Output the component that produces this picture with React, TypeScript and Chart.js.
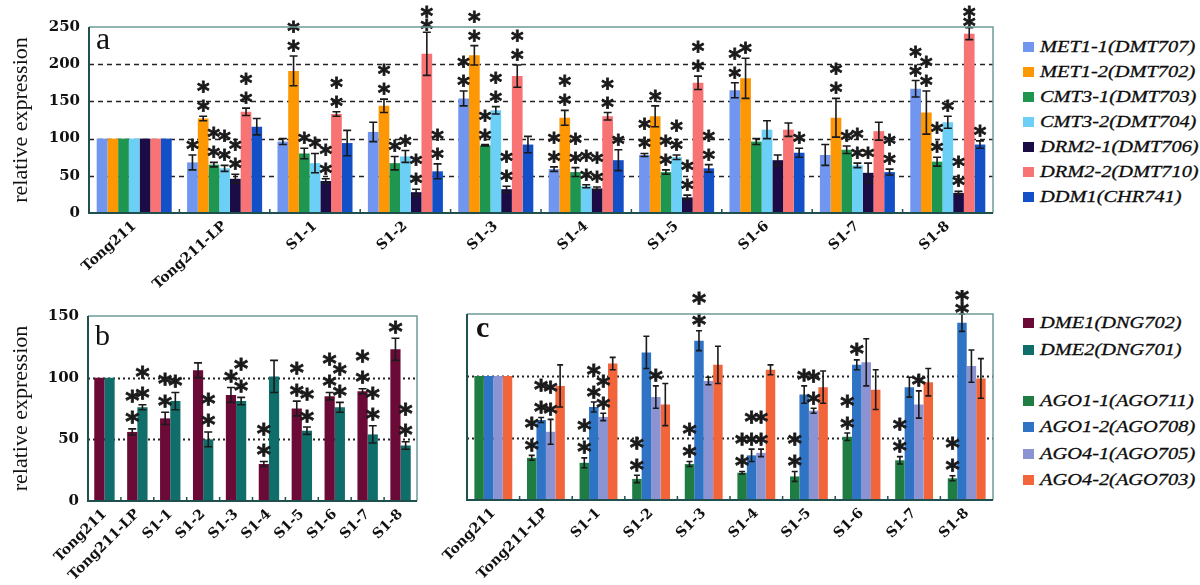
import { useEffect, useRef } from 'react';
import { Chart, registerables } from 'chart.js';
Chart.register(...registerables);

// ---------- data ----------
const groups = ['Tong211', 'Tong211-LP', 'S1-1', 'S1-2', 'S1-3', 'S1-4', 'S1-5', 'S1-6', 'S1-7', 'S1-8'];

// panel a
const aNames = ['MET1-1(DMT707)', 'MET1-2(DMT702)', 'CMT3-1(DMT703)', 'CMT3-2(DMT704)', 'DRM2-1(DMT706)', 'DRM2-2(DMT710)', 'DDM1(CHR741)'];
const aColors = ['#7096f0', '#fd9704', '#1e9650', '#6ccff6', '#1c0c46', '#f87474', '#1350c8'];
const met11 = [100, 68, 96, 109, 154, 59, 78, 165, 78, 167];
const met11Err = [0, 10, 4, 13, 10, 3, 2, 10, 14, 11];
const met11Stars = [0, 1, 0, 0, 2, 2, 2, 2, 0, 2];
const met12 = [100, 127, 191, 144, 212, 128, 130, 181, 128, 135];
const met12Err = [0, 3, 20, 9, 13, 10, 14, 27, 26, 29];
const met12Stars = [0, 2, 2, 2, 2, 2, 1, 1, 2, 2];
const cmt31 = [100, 65, 80, 67, 91, 55, 55, 96, 85, 69];
const cmt31Err = [0, 3, 7, 9, 1, 6, 3, 4, 5, 6];
const cmt31Stars = [0, 2, 1, 1, 2, 2, 2, 0, 1, 2];
const cmt32 = [100, 60, 67, 76, 138, 36, 75, 112, 64, 122];
const cmt32Err = [0, 4, 13, 8, 5, 2, 3, 12, 3, 8];
const cmt32Stars = [0, 2, 1, 1, 2, 2, 2, 0, 2, 1];
const drm21 = [100, 46, 43, 28, 32, 33, 21, 71, 54, 27];
const drm21Err = [0, 6, 3, 4, 4, 2, 3, 7, 13, 2];
const drm21Stars = [0, 2, 2, 2, 2, 2, 2, 0, 1, 2];
const drm22 = [100, 136, 133, 214, 184, 130, 175, 112, 110, 241];
const drm22Err = [0, 5, 3, 29, 15, 5, 9, 9, 12, 8];
const drm22Stars = [0, 2, 2, 2, 2, 2, 2, 0, 0, 2];
const ddm1 = [100, 116, 94, 56, 92, 71, 60, 81, 55, 92];
const ddm1Err = [0, 11, 17, 10, 11, 14, 5, 6, 4, 5];
const ddm1Stars = [0, 0, 0, 2, 0, 1, 2, 1, 2, 1];

// panel b
const bNames = ['DME1(DNG702)', 'DME2(DNG701)'];
const bColors = ['#6b0a36', '#0f6e6a'];
const dme1 = [100, 56, 67, 106, 86, 30, 75, 85, 89, 123];
const dme1Err = [0, 2.5, 5, 6, 6, 2, 6, 3, 2, 9];
const dme1Stars = [0, 2, 2, 0, 1, 2, 2, 2, 2, 1];
const dme2 = [100, 76, 81, 50, 81, 101, 57, 76, 54, 45];
const dme2Err = [0, 2, 7, 6, 3, 13, 3, 4, 7, 3];
const dme2Stars = [0, 2, 1, 2, 2, 0, 2, 2, 2, 2];

// panel c
const cNames = ['AGO1-1(AGO711)', 'AGO1-2(AGO708)', 'AGO4-1(AGO705)', 'AGO4-2(AGO703)'];
const cColors = ['#1f7d44', '#2e73c4', '#8b93d3', '#f2653a'];
const ago11 = [100, 34, 30, 17, 29, 22, 19, 51, 32, 17.5];
const ago11Err = [0, 2, 4, 3, 2, 1, 4, 3, 3, 2];
const ago11Stars = [0, 2, 2, 2, 2, 2, 2, 2, 2, 2];
const ago12 = [100, 64.5, 75, 119, 128.5, 36, 85, 109, 91, 143];
const ago12Err = [0, 2, 4, 13, 8, 5, 7, 4, 8, 7];
const ago12Stars = [0, 2, 2, 0, 2, 2, 1, 1, 0, 2];
const ago41 = [100, 55, 67, 83, 96, 38, 72, 111, 77, 108];
const ago41Err = [0, 10, 3, 9, 3, 3, 2, 19, 11, 13];
const ago41Stars = [0, 2, 2, 1, 0, 2, 2, 0, 1, 0];
const ago42 = [100, 92, 110, 77, 109, 105, 91, 89, 95, 98];
const ago42Err = [0, 17, 5, 17, 15, 4, 13, 16, 11, 16];
const ago42Stars = [0, 0, 0, 0, 0, 0, 0, 0, 0, 0];

const aTicks = [0, 50, 100, 150, 200, 250];
const bTicks = [0, 50, 100, 150];
const aGrid = [50, 100, 150, 200];
const bcGrid = [50, 100];

const TICK_FONT = '"DejaVu Serif", serif';
const TITLE_FONT = '"Liberation Serif", "Times New Roman", serif';

// ---------- plugin: grid, error bars, stars, frame, panel letter ----------
const panelPlugin = {
  id: 'panel',
  beforeDatasetsDraw(chart: any, _a: any, opts: any) {
    const { ctx, chartArea: ca, scales } = chart;
    const y = scales.y;
    ctx.save();
    ctx.strokeStyle = '#222';
    ctx.lineWidth = opts.gridWidth;
    ctx.setLineDash(opts.gridDash);
    opts.gridValues.forEach((v: number) => {
      const py = Math.round(y.getPixelForValue(v)) + 0.5;
      ctx.beginPath();
      ctx.moveTo(ca.left, py);
      ctx.lineTo(ca.right, py);
      ctx.stroke();
    });
    ctx.restore();
  },
  afterDatasetsDraw(chart: any, _a: any, opts: any) {
    const { ctx, chartArea: ca, scales } = chart;
    const x = scales.x;
    const y = scales.y;
    ctx.save();
    ctx.font = opts.starFont;
    const m = ctx.measureText('*');
    const off = (m.actualBoundingBoxAscent - m.actualBoundingBoxDescent) / 2;
    chart.data.datasets.forEach((ds: any, i: number) => {
      const meta = chart.getDatasetMeta(i);
      const errs = opts.errors[i];
      const stars = opts.stars[i];
      meta.data.forEach((bar: any, j: number) => {
        const v = ds.data[j];
        const e = errs[j];
        const bx = bar.x;
        let top = y.getPixelForValue(v);
        if (e > 0) {
          const t = y.getPixelForValue(v + e);
          const b = y.getPixelForValue(v - e);
          ctx.strokeStyle = '#1a1a1a';
          ctx.lineWidth = 1.6;
          ctx.setLineDash([]);
          ctx.beginPath();
          ctx.moveTo(bx, t); ctx.lineTo(bx, b);
          ctx.moveTo(bx - opts.cap, t); ctx.lineTo(bx + opts.cap, t);
          ctx.moveTo(bx - opts.cap, b); ctx.lineTo(bx + opts.cap, b);
          ctx.stroke();
          top = t;
        }
        const n = stars[j];
        if (!n) return;
        let first = opts.starFirst;
        let gap = opts.starGap;
        const need = first + (n - 1) * gap;
        const avail = top - opts.starMinY;
        if (need > avail && avail > 0) {
          const f = avail / need;
          first *= f;
          gap *= f;
        }
        ctx.fillStyle = '#1a1a1a';
        ctx.strokeStyle = '#1a1a1a';
        ctx.lineWidth = 0.8;
        ctx.textAlign = 'center';
        ctx.textBaseline = 'alphabetic';
        for (let k = 0; k < n; k++) {
          const cy = top - first - k * gap;
          ctx.fillText('*', bx, cy + off);
          ctx.strokeText('*', bx, cy + off);
        }
      });
    });
    // small inner ticks at group boundaries
    ctx.strokeStyle = '#1f4f4f';
    ctx.lineWidth = 1.5;
    for (let j = 1; j < groups.length; j++) {
      const bx = (x.getPixelForValue(j - 1) + x.getPixelForValue(j)) / 2;
      ctx.beginPath();
      ctx.moveTo(bx, ca.bottom);
      ctx.lineTo(bx, ca.bottom - 4);
      ctx.stroke();
    }
    // frame
    ctx.strokeStyle = '#6d9b99';
    ctx.lineWidth = 1.5;
    ctx.beginPath();
    ctx.moveTo(ca.left, ca.top);
    ctx.lineTo(ca.right, ca.top);
    ctx.lineTo(ca.right, ca.bottom);
    ctx.stroke();
    ctx.strokeStyle = '#1f4f4f';
    ctx.lineWidth = 2;
    ctx.beginPath();
    ctx.moveTo(ca.left, ca.top);
    ctx.lineTo(ca.left, ca.bottom);
    ctx.lineTo(ca.right, ca.bottom);
    ctx.stroke();
    // panel letter
    ctx.fillStyle = '#111';
    ctx.font = opts.letterFont;
    ctx.textAlign = 'left';
    ctx.fillText(opts.letter, ca.left + opts.letterDx, ca.top + opts.letterDy);
    ctx.restore();
  },
};

type PanelProps = {
  left: number; top: number; width: number; height: number;
  names: string[]; colors: string[]; values: number[][]; errors: number[][]; stars: number[][];
  max: number; tickVals: number[] | null; gridValues: number[]; gridDash: number[]; gridWidth: number;
  catPct: number; yWidth: number; padTop: number; padRight: number; xHeight: number;
  labelSize: number; rotation: number; starFont: string; starFirst: number; starGap: number; starMinY: number; cap: number;
  letter: string; letterFont: string; letterDx: number; letterDy: number; title: boolean;
};

function Panel(p: PanelProps) {
  const ref = useRef<HTMLCanvasElement>(null);
  useEffect(() => {
    if (!ref.current) return;
    const chart = new Chart(ref.current, {
      type: 'bar',
      data: {
        labels: groups,
        datasets: p.names.map((n, i) => ({
          label: n,
          data: p.values[i],
          backgroundColor: p.colors[i],
          borderWidth: 0,
          categoryPercentage: p.catPct,
          barPercentage: 1,
        })),
      },
      options: {
        responsive: false,
        animation: false,
        devicePixelRatio: 1,
        layout: { padding: { left: 0, top: p.padTop, right: p.padRight, bottom: 0 } },
        plugins: {
          legend: { display: false },
          tooltip: { enabled: false },
          panel: {
            errors: p.errors, stars: p.stars, starFont: p.starFont, starFirst: p.starFirst,
            starGap: p.starGap, starMinY: p.starMinY, cap: p.cap, gridValues: p.gridValues, gridDash: p.gridDash,
            gridWidth: p.gridWidth, letter: p.letter, letterFont: p.letterFont,
            letterDx: p.letterDx, letterDy: p.letterDy,
          },
        } as any,
        scales: {
          x: {
            grid: { display: false, drawTicks: false },
            border: { display: false },
            ticks: {
              autoSkip: false, maxRotation: p.rotation, minRotation: p.rotation, padding: 5, color: '#111',
              font: { family: TICK_FONT, size: p.labelSize, weight: 'bold' },
            },
            afterFit: (s: any) => { s.height = p.xHeight; },
          },
          y: {
            min: 0,
            max: p.max,
            grid: { display: false, drawTicks: false },
            border: { display: false },
            afterBuildTicks: (s: any) => {
              if (p.tickVals) s.ticks = p.tickVals.map((v) => ({ value: v }));
            },
            ticks: {
              display: !!p.tickVals, stepSize: 50, padding: 9, color: '#111',
              font: { family: TICK_FONT, size: 15, weight: 'bold' },
            },
            title: {
              display: p.title, text: 'relative expression', color: '#111',
              font: { family: TITLE_FONT, size: 22 }, padding: { top: 8, bottom: 0 },
            },
            afterFit: (s: any) => { s.width = p.yWidth; },
          },
        },
      },
      plugins: [panelPlugin as any],
    });
    return () => chart.destroy();
  }, []);
  return (
    <canvas
      ref={ref}
      width={p.width}
      height={p.height}
      style={{ position: 'absolute', left: p.left, top: p.top, width: p.width, height: p.height }}
    />
  );
}

function Legend({ names, colors, left, top, step }: { names: string[]; colors: string[]; left: number; top: number; step: number }) {
  return (
    <>
      {names.map((n, i) => (
        <div key={n} style={{ position: 'absolute', left, top: top + i * step - 10, height: 20, display: 'flex', alignItems: 'center', whiteSpace: 'nowrap' }}>
          <span style={{ display: 'inline-block', width: 11, height: 10, background: colors[i], marginRight: 6 }} />
          <span style={{ fontFamily: TITLE_FONT, fontStyle: 'italic', fontSize: 17, color: '#0d0d0d', display: 'inline-block', transform: 'scaleX(1.2)', transformOrigin: 'left center', WebkitTextStroke: '0.3px #0d0d0d' }}>{n}</span>
        </div>
      ))}
    </>
  );
}

export default function App() {
  return (
    <div style={{ position: 'absolute', left: 0, top: 0, width: 1200, height: 585, background: '#fff', overflow: 'hidden' }}>
      <Panel
        left={0} top={0} width={1000} height={296}
        names={aNames} colors={aColors}
        values={[met11, met12, cmt31, cmt32, drm21, drm22, ddm1]}
        errors={[met11Err, met12Err, cmt31Err, cmt32Err, drm21Err, drm22Err, ddm1Err]}
        stars={[met11Stars, met12Stars, cmt31Stars, cmt32Stars, drm21Stars, drm22Stars, ddm1Stars]}
        max={250} tickVals={aTicks} gridValues={aGrid} gridDash={[5, 4]} gridWidth={1.5}
        catPct={0.83} yWidth={89} padTop={27} padRight={7} xHeight={83}
        labelSize={14} rotation={42} starFont={'bold 24px "DejaVu Sans"'} starFirst={10} starGap={19} starMinY={12} cap={4}
        letter="a" letterFont={'32px "Liberation Serif"'} letterDx={7} letterDy={22} title={true}
      />
      <Panel
        left={0} top={290} width={430} height={295}
        names={bNames} colors={bColors}
        values={[dme1, dme2]}
        errors={[dme1Err, dme2Err]}
        stars={[dme1Stars, dme2Stars]}
        max={150} tickVals={bTicks} gridValues={bcGrid} gridDash={[2, 3]} gridWidth={2}
        catPct={0.62} yWidth={88} padTop={26} padRight={13} xHeight={84}
        labelSize={14} rotation={45} starFont={'bold 27px "DejaVu Sans"'} starFirst={11} starGap={21.5} starMinY={4} cap={4}
        letter="b" letterFont={'30px "Liberation Serif"'} letterDx={7} letterDy={29} title={true}
      />
      <Panel
        left={440} top={290} width={560} height={295}
        names={cNames} colors={cColors}
        values={[ago11, ago12, ago41, ago42]}
        errors={[ago11Err, ago12Err, ago41Err, ago42Err]}
        stars={[ago11Stars, ago12Stars, ago41Stars, ago42Stars]}
        max={150} tickVals={null} gridValues={bcGrid} gridDash={[2, 3]} gridWidth={2}
        catPct={0.72} yWidth={14} padTop={24} padRight={7} xHeight={85}
        labelSize={14} rotation={45} starFont={'bold 27px "DejaVu Sans"'} starFirst={10} starGap={22} starMinY={5} cap={3}
        letter="c" letterFont={'bold 30px "Liberation Serif"'} letterDx={9} letterDy={23} title={false}
      />
      <Legend names={aNames} colors={aColors} left={1023} top={47} step={25} />
      <Legend names={bNames} colors={bColors} left={1023} top={323} step={27} />
      <Legend names={cNames} colors={cColors} left={1023} top={401} step={26.3} />
    </div>
  );
}
